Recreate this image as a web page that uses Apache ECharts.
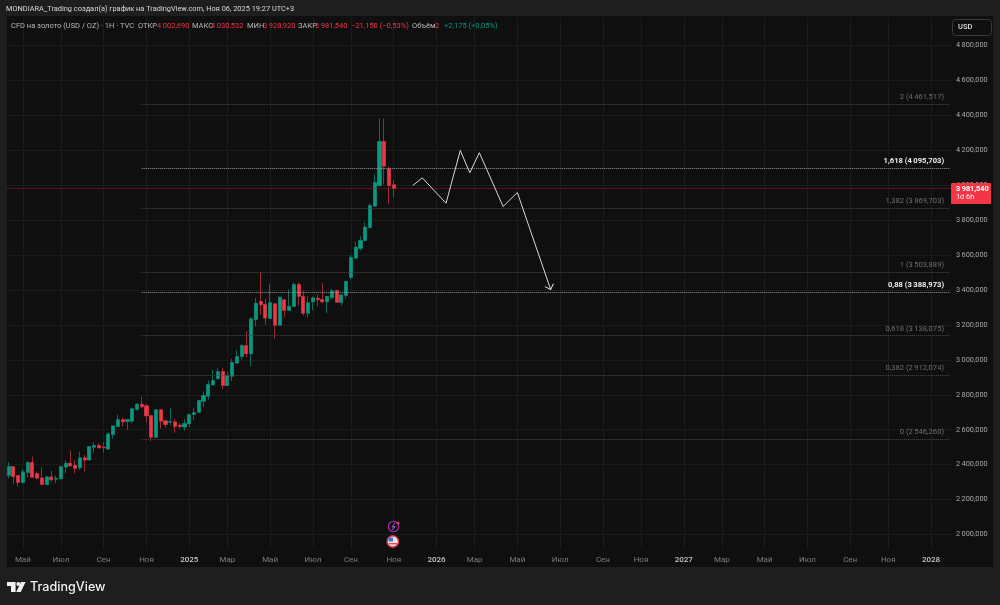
<!DOCTYPE html>
<html lang="ru">
	<head>
		<meta charset="UTF-8">
		<title>CFD на золото</title>
		<style type="text/css">
			html,
			body,
			#main {
				padding: 0;
				margin: 0;
				overflow: hidden;
				background-color: #1e1e1e;
				width: 100%;
				height: 100%;
			}
		</style>
	</head>
	<body>
		<div id="main"></div>
		<script type="text/javascript" src="https://cdn.jsdelivr.net/npm/echarts@6/dist/echarts.min.js"></script>
		<script type="text/javascript">
			// weekly bars, first one is the week of 15 Apr 2024
			const opens = [2338,2389,2338,2298,2355,2412,2349,2324,2286,2330,2317,2319,2386,2408,2397,2382,2439,2427,2500,2510,2500,2489,2572,2618,2658,2647,2649,2716,2746,2737,2681,2557,2714,2651,2643,2645,2626,2615,2634,2687,2700,2763,2792,2857,2892,2933,2853,2906,2981,3019,3082,3035,3231,3334,3317,3237,3321,3198,3344,3283,3306,3432,3363,3267,3332,3353,3346,3332,3357,3397,3328,3369,3472,3582,3638,3683,3758,3880,3997,4250,4094,4002.69];
			const closes = [2389,2332,2298,2359,2412,2328,2322,2286,2330,2313,2322,2389,2408,2393,2378,2439,2426,2504,2510,2496,2496,2576,2622,2658,2645,2658,2720,2746,2731,2679,2557,2714,2649,2630,2647,2618,2618,2636,2687,2698,2767,2796,2859,2882,2933,2853,2910,2985,3019,3082,3035,3235,3324,3315,3239,3327,3198,3359,3283,3307,3432,3363,3267,3327,3355,3344,3332,3363,3395,3330,3372,3449,3586,3645,3683,3760,3884,4016,4250,4109,3998,3981.54];
			const lows = [2322,2290,2275,2290,2328,2324,2319,2286,2286,2303,2294,2317,2351,2389,2351,2370,2361,2424,2469,2492,2469,2485,2548,2615,2620,2599,2637,2710,2725,2643,2534,2555,2605,2611,2626,2582,2607,2594,2615,2653,2698,2729,2773,2853,2888,2832,2850,2878,2977,3002,3015,2962,3193,3258,3202,3235,3120,3197,3244,3283,3302,3311,3254,3244,3283,3306,3324,3267,3344,3328,3311,3353,3460,3579,3626,3679,3752,3878,3997,4004,3890,3928.92];
			const highs = [2414,2389,2338,2376,2420,2447,2361,2386,2336,2366,2338,2389,2424,2481,2427,2475,2456,2506,2529,2523,2529,2582,2624,2687,2670,2658,2723,2752,2790,2748,2681,2716,2720,2657,2725,2662,2637,2662,2691,2725,2767,2819,2882,2943,2952,2954,2929,3006,3054,3088,3164,3243,3355,3502,3350,3436,3324,3363,3347,3403,3445,3443,3397,3363,3363,3374,3439,3363,3407,3401,3378,3451,3601,3674,3706,3788,3895,4060,4382,4382,4107,4030.532];

			const totalBars = 199;
			const monthIdx = [3,11,20,29,38,46,55,64,72,81,90,98,107,116,125,133,142,150,159,168,177,185,194];
			const monthText = ['Май','Июл','Сен','Ноя','2025','Мар','Май','Июл','Сен','Ноя','2026','Мар','Май','Июл','Сен','Ноя','2027','Мар','Май','Июл','Сен','Ноя','2028'];

			const priceTicks = [4800,4600,4400,4200,4000,3800,3600,3400,3200,3000,2800,2600,2400,2200,2000];
			const priceTickText = ['4\u2009800,000','4\u2009600,000','4\u2009400,000','4\u2009200,000','4\u2009000,000','3\u2009800,000','3\u2009600,000','3\u2009400,000','3\u2009200,000','3\u2009000,000','2\u2009800,000','2\u2009600,000','2\u2009400,000','2\u2009200,000','2\u2009000,000'];

			const fibValues = [4461.517,4095.703,3869.703,3503.889,3388.973,3138.075,2912.074,2546.260];
			const fibText = ['2 (4\u2009461,517)','1,618 (4\u2009095,703)','1,382 (3\u2009869,703)','1 (3\u2009503,889)','0,88 (3\u2009388,973)','0,618 (3\u2009138,075)','0,382 (2\u2009912,074)','0 (2\u2009546,260)'];
			const fibBright = [false,true,false,false,true,false,false,false];
			const fibStartIdx = 28;
			const fibEndIdx = 198;

			const forecastIdx = [85,87,92,95,97,99,104,107,114];
			const forecastPrice = [3998,4042,3897,4199,4071,4186,3878,3958,3403];

			const lastPrice = 3981.54;

			const FONT = 'Roboto, "Noto Sans", sans-serif';
			const UP = '#089981';
			const DOWN = '#f23645';
			const UP_WICK = '#0c6a5a';
			const DOWN_WICK = '#9a2a36';
			const GRID = '#1b1b1b';

			const categories = [];
			for (let i = 0; i < totalBars; i++) {
				const m = monthIdx.indexOf(i);
				categories.push(m >= 0 ? monthText[m] : '');
			}
			const hasLabel = function (i, name) {
				return monthIdx.indexOf(i) >= 0;
			};

			const wickData = opens.map(function (o, i) {
				return [o, closes[i], lows[i], highs[i]];
			});
			const bodyData = opens.map(function (o, i) {
				return [o, closes[i], Math.min(o, closes[i]), Math.max(o, closes[i])];
			});

			const fibLines = fibValues.map(function (v, i) {
				const color = fibBright[i] ? '#9a9a9a' : '#4a4a4a';
				return [
					{
						coord: [fibStartIdx, v],
						lineStyle: { color: color, type: [1, 1], width: 1 },
						label: {
							show: true,
							position: 'insideEndTop',
							distance: 3,
							offset: [-3, 0],
							formatter: fibText[i],
							color: fibBright[i] ? '#eeeeee' : '#6e6e6e',
							fontWeight: fibBright[i] ? 'bold' : 'normal',
							fontFamily: FONT,
							fontSize: 7.6
						}
					},
					{ coord: [fibEndIdx, v] }
				];
			});

			const headerParts = [
				[6, 9, 'MONDIARA_Trading создал(а) график на TradingView.com, Ноя 06, 2025 19:27 UTC+3', '#d8d8d8', 7.4],
				[11, 26, 'CFD на золото (USD / OZ) · 1Н · TVC', '#b8b8b8', 7.5],
				[138, 26, 'ОТКР', '#b8b8b8', 7.5],
				[157, 26, '4\u2009002,690', DOWN, 7.5],
				[192, 26, 'МАКС', '#b8b8b8', 7.5],
				[211, 26, '4\u2009030,532', DOWN, 7.5],
				[247, 26, 'МИН', '#b8b8b8', 7.5],
				[263, 26, '3\u2009928,920', DOWN, 7.5],
				[298, 26, 'ЗАКР', '#b8b8b8', 7.5],
				[315, 26, '3\u2009981,540', DOWN, 7.5],
				[351, 26, '−21,150 (−0,53%)', DOWN, 7.5],
				[412, 26, 'Объём', '#b8b8b8', 7.5],
				[435, 26, '2', DOWN, 7.5],
				[444, 26, '+2,175 (+0,05%)', UP, 7.5]
			];

			const graphics = [
				{ type: 'rect', z: -10, silent: true, shape: { x: 7, y: 16, width: 986, height: 551 }, style: { fill: '#0f0f0f' } },
				{ type: 'rect', z: 10, silent: true, shape: { x: 952.5, y: 19.5, width: 39, height: 16, r: 3 }, style: { fill: '#0f0f0f', stroke: '#3a3a3a', lineWidth: 1 } },
				{ type: 'text', z: 11, silent: true, style: { x: 958, y: 27.5, text: 'USD', fill: '#dcdcdc', font: '500 7.6px ' + FONT, textVerticalAlign: 'middle' } },
				// news / event markers over the time axis
				{ type: 'circle', z: 11, silent: true, shape: { cx: 393.5, cy: 526.5, r: 5.2 }, style: { fill: '#0f0f0f', stroke: '#9c27b0', lineWidth: 1.3 } },
				{ type: 'polyline', z: 12, silent: true, shape: { points: [[395, 523], [392, 527], [395, 526.5], [392, 530]] }, style: { fill: 'none', stroke: '#b565c8', lineWidth: 1 } },
				{ type: 'circle', z: 12, silent: true, shape: { cx: 398, cy: 523, r: 1.5 }, style: { fill: '#f23645' } },
				{ type: 'circle', z: 11, silent: true, shape: { cx: 392.8, cy: 541.5, r: 5.8 }, style: { fill: '#e8e8e8', stroke: '#d32f3f', lineWidth: 1.4 } },
				{ type: 'rect', z: 12, silent: true, shape: { x: 388.5, y: 537.5, width: 4.5, height: 4 }, style: { fill: '#3f6fd8' } },
				{ type: 'rect', z: 12, silent: true, shape: { x: 388.5, y: 543, width: 8.5, height: 1.4 }, style: { fill: '#e04a55' } },
				// TradingView logo
				{ type: 'polygon', silent: true, shape: { points: [[7, 582], [15.6, 582], [15.6, 592], [11, 592], [11, 586], [7, 586]] }, style: { fill: '#f0f0f0' } },
				{ type: 'circle', silent: true, shape: { cx: 18.3, cy: 584, r: 2 }, style: { fill: '#f0f0f0' } },
				{ type: 'polygon', silent: true, shape: { points: [[21, 582], [25.6, 582], [20.8, 592], [16.2, 592]] }, style: { fill: '#f0f0f0' } },
				{ type: 'text', silent: true, style: { x: 30, y: 587, text: 'TradingView', fill: '#f0f0f0', font: '500 12.6px Inter, ' + FONT, textVerticalAlign: 'middle' } }
			];
			headerParts.forEach(function (p) {
				graphics.push({
					type: 'text',
					z: 11,
					silent: true,
					style: { x: p[0], y: p[1], text: p[2], fill: p[3], font: p[4] + 'px ' + FONT, textVerticalAlign: 'middle' }
				});
			});

			const uiChart = echarts.init(document.getElementById('main'));
			uiChart.setOption({
				animation: false,
				backgroundColor: '#1e1e1e',
				graphic: graphics,
				grid: { left: 6.22, top: 17.5, width: 946.2, height: 531 },
				xAxis: {
					type: 'category',
					data: categories,
					axisLine: { show: false },
					axisTick: { show: false },
					axisLabel: {
						interval: hasLabel,
						margin: 7,
						fontFamily: FONT,
						fontSize: 8,
						color: '#7d7d7d',
						hideOverlap: false,
						formatter: function (v) {
							return /^\d+$/.test(v) ? '{y|' + v + '}' : v;
						},
						rich: {
							y: { color: '#c8c8c8', fontFamily: FONT, fontSize: 8, fontWeight: 500 }
						}
					},
					splitLine: {
						show: true,
						interval: hasLabel,
						alignWithLabel: true,
						lineStyle: { color: GRID, width: 1 }
					}
				},
				yAxis: {
					type: 'value',
					position: 'right',
					min: 1920,
					max: 4960,
					axisLine: { show: false },
					axisTick: { show: false, customValues: priceTicks },
					axisLabel: {
						customValues: priceTicks,
						margin: 3.6,
						fontFamily: FONT,
						fontSize: 7.3,
						color: '#a8a8a8',
						formatter: function (v) {
							return priceTickText[priceTicks.indexOf(v)];
						}
					},
					splitLine: {
						show: true,
						lineStyle: { color: GRID, width: 1 }
					}
				},
				series: [
					{
						name: 'wicks',
						type: 'candlestick',
						data: wickData,
						barWidth: 3.6,
						clip: false,
						silent: true,
						itemStyle: { color: UP_WICK, color0: DOWN_WICK, borderColor: UP_WICK, borderColor0: DOWN_WICK, borderWidth: 1 },
						z: 2
					},
					{
						name: 'bodies',
						type: 'candlestick',
						data: bodyData,
						barWidth: 3.6,
						clip: false,
						silent: true,
						itemStyle: { color: UP, color0: DOWN, borderColor: UP, borderColor0: DOWN, borderWidth: 0 },
						z: 3,
						markLine: {
							silent: true,
							symbol: 'none',
							animation: false,
							data: fibLines
						}
					},
					{
						name: 'last price',
						type: 'line',
						data: [],
						z: 4,
						markLine: {
							silent: true,
							symbol: 'none',
							animation: false,
							lineStyle: { color: '#7d2630', type: [1, 1], width: 1 },
							data: [{
								yAxis: lastPrice,
								label: {
									show: true,
									position: 'end',
									distance: 0,
									offset: [-1.4, 5],
									backgroundColor: DOWN,
									borderRadius: 1,
									padding: [2, 4, 2, 5],
									width: 31,
									formatter: '{a|3\u2009981,540}\n{b|1d 6h}',
									rich: {
										a: { color: '#ffffff', fontFamily: FONT, fontSize: 7.3, fontWeight: 'bold', lineHeight: 8.5 },
										b: { color: '#ffffff', fontFamily: FONT, fontSize: 7.3, lineHeight: 8.5 }
									}
								}
							}]
						}
					},
					{
						name: 'forecast',
						type: 'line',
						data: forecastIdx.map(function (x, i) {
							return [x, forecastPrice[i]];
						}),
						z: 5,
						silent: true,
						showSymbol: true,
						showAllSymbol: true,
						symbol: function (v, params) {
							return params.dataIndex === forecastIdx.length - 1 ? 'path://M0 10L5 5L10 10M5 0L5 0' : 'none';
						},
						symbolSize: 9,
						symbolRotate: 199,
						lineStyle: { color: '#d8d8d8', width: 1 },
						itemStyle: { color: 'transparent', borderColor: '#d8d8d8', borderWidth: 1 }
					}
				]
			});
		</script>
	</body>
</html>
